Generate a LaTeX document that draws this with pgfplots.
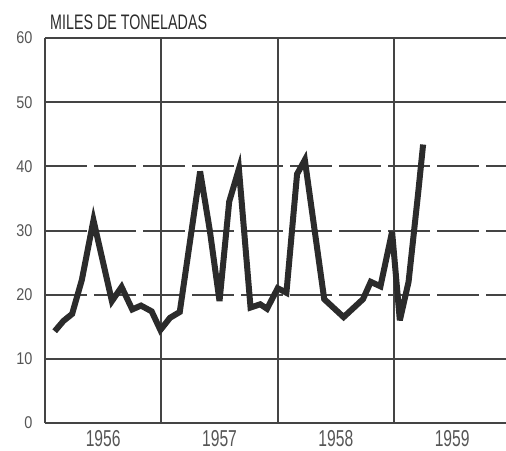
\documentclass[border=0pt]{standalone}
\usepackage{fontspec}
\setmainfont{Liberation Sans}
\newfontfamily\condfont{Liberation Sans}[FakeStretch=0.68]
\newfontfamily\tickfont{Liberation Sans}[FakeStretch=0.85]
\usepackage{pgfplots}
\pgfplotsset{compat=1.18}
\usetikzlibrary{calc}
\definecolor{gridc}{HTML}{444444}
\definecolor{linec}{HTML}{2B2B2B}
\definecolor{txtc}{HTML}{555555}
\begin{document}
\begin{tikzpicture}
\begin{axis}[
  scale only axis,
  width=461pt, height=385pt,
  xmin=0, xmax=47.55, ymin=0, ymax=60,
  axis x line=bottom, axis y line=left,
  axis line style={-, gridc, line width=2pt},
  /pgf/number format/assume math mode=true,
  ytick={0,10,50,60},
  extra y ticks={20,30,40},
  extra y tick style={grid style={gridc, line width=2pt, dash pattern=on 42pt off 7pt}},
  ymajorgrids,
  grid style={gridc, line width=2pt},
  major tick length=0pt, minor tick length=0pt,
  yticklabel style={font=\tickfont\fontsize{17}{17}\selectfont, text=txtc, xshift=-9pt},
  xtick={6,18,30,42},
  xticklabels={1956,1957,1958,1959},
  xticklabel style={font=\condfont\fontsize{23}{23}\selectfont, text=txtc, yshift=-4pt},
  minor xtick={12,24,36},
  xminorgrids,
  minor grid style={gridc, line width=2pt},
  clip=false,
]
\addplot[linec, line width=6pt, line join=miter, miter limit=6] coordinates {
(1.0,14.3) (1.9,15.9) (2.8,17.0) (3.8,22.3) (5.0,31.6) (6.9,19.0) (7.9,21.2)
(9.0,17.7) (9.9,18.3) (11.0,17.4) (11.9,14.5)
(12.9,16.4) (13.9,17.3) (16.0,39.2) (17.0,30.0) (18.0,19.0) (19.0,34.5) (20.0,39.6)
(21.2,18.0) (22.2,18.5) (22.9,17.8) (24.0,21.0)
(24.9,20.3) (26.0,38.8) (26.8,41.0) (28.8,19.3) (30.8,16.5) (32.8,19.3)
(33.6,22.0) (34.6,21.3) (35.8,29.8) (36.6,16.0) (37.5,22.0) (38.0,29.0) (38.5,36.0) (39.0,43.4)
};
\end{axis}
\node[anchor=south west, inner sep=0pt, text=linec, font=\condfont\fontsize{21}{21}\selectfont]
  at ($(current axis.north west)+(5pt,8pt)$) {MILES DE TONELADAS};
\pgfresetboundingbox
\path[use as bounding box] ($(current axis.south west)+(-45pt,-27pt)$) rectangle ($(current axis.north east)+(0pt,38pt)$);
\end{tikzpicture}
\end{document}
